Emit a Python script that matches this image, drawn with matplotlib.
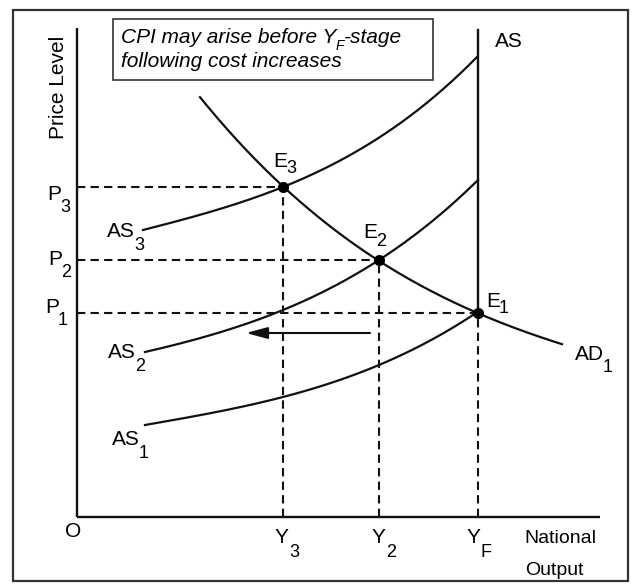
import numpy as np
import matplotlib
matplotlib.use("Agg")
import matplotlib.pyplot as plt
from matplotlib.patches import Rectangle

plt.rcParams['font.family'] = ['Liberation Sans', 'DejaVu Sans']

# ---- data (output on x, price level on y) ----
Y3, Y2, YF = 206, 302, 401
P1, P2, P3 = 204, 257, 330
eq_x = [YF, Y2, Y3]
eq_y = [P1, P2, P3]

ad1_x = [123, 206, 302, 399, 485]
ad1_y = [420, 330, 257, 204, 173]
as3_x = [66, 206, 303, 400]
as3_y = [287, 330, 380, 460]
as2_x = [68, 206, 302, 401]
as2_y = [165, 207, 257, 337]
as1_x = [68, 206, 302, 399]
as1_y = [92, 120, 152, 204]
as_top = 487
x_axis_end = 523
y_axis_top = 489

fig = plt.figure(figsize=(6.34, 5.85), dpi=100)
ax = fig.add_axes([0, 0, 1, 1])
ax.set_xlim(-77, 557)
ax.set_ylim(-68, 517)
ax.axis('off')
renderer = fig.canvas.get_renderer()

# outer frame
fig.patches.append(Rectangle((13/634, 4/585), 615/634, 571/585, transform=fig.transFigure,
                             fill=False, lw=1.6, ec='#333333'))

# axes
ax.plot([0, 0], [0, y_axis_top], color='#111111', lw=1.7, solid_capstyle='butt')
ax.plot([0, x_axis_end], [0, 0], color='#111111', lw=1.7, solid_capstyle='butt')

def smooth(xs, ys, deg=3):
    c = np.polyfit(xs, ys, deg)
    xx = np.linspace(xs[0], xs[-1], 200)
    return xx, np.polyval(c, xx)

for xs, ys in [(ad1_x, ad1_y), (as3_x, as3_y), (as2_x, as2_y), (as1_x, as1_y)]:
    xx, yy = smooth(xs, ys)
    ax.plot(xx, yy, color='#111111', lw=1.6)

# vertical AS
ax.plot([YF, YF], [P1, as_top], color='#111111', lw=1.7)

# dashed guides
dash = dict(color='#111111', lw=1.5, dashes=(4, 2.5))
for x, y in zip(eq_x, eq_y):
    ax.plot([0, x], [y, y], **dash)
    ax.plot([x, x], [0, y], **dash)

ax.plot(eq_x, eq_y, 'o', color='black', ms=7)

# arrow
ax.annotate('', xy=(169, 184), xytext=(293, 184),
            arrowprops=dict(arrowstyle='-|>,head_length=1.3,head_width=0.35',
                            color='#111111', lw=1.5, shrinkA=0, shrinkB=0))

FS, SFS = 15, 13

def sublabel(x, y, main, sub, drop=12, gap=-1, fs=FS, sfs=SFS, **kw):
    t = ax.text(x, y, main, fontsize=fs, va='baseline', ha='left', **kw)
    bb = t.get_window_extent(renderer)
    xr = ax.transData.inverted().transform((bb.x1, 0))[0]
    ax.text(xr + gap, y - drop, sub, fontsize=sfs, va='baseline', ha='left', **kw)
    return t

# equilibrium labels
sublabel(409, 210, 'E', '1', drop=6)
sublabel(286, 279, 'E', '2', drop=8)
sublabel(196, 350, 'E', '3', drop=6)

# curve labels
sublabel(498, 157, 'AD', '1', drop=12)
sublabel(30, 280, 'AS', '3', drop=13)
sublabel(31, 159, 'AS', '2', drop=13)
sublabel(35, 72, 'AS', '1', drop=13)
ax.text(418, 470, 'AS', fontsize=FS, va='baseline')

# price labels
sublabel(-30, 317, 'P', '3', drop=12)
sublabel(-29, 252, 'P', '2', drop=12)
sublabel(-32, 204, 'P', '1', drop=12)

# output labels
sublabel(198, -26, 'Y', '3', drop=14, gap=0)
sublabel(295, -26, 'Y', '2', drop=14, gap=0)
sublabel(390, -26, 'Y', 'F', drop=14, gap=0)
ax.text(-12, -20, 'O', fontsize=FS, ha='left', va='baseline')
ax.text(447, -26, 'National', fontsize=14, va='baseline')
ax.text(448, -58, 'Output', fontsize=14, va='baseline')
ax.text(-18, 430, 'Price Level', fontsize=15, rotation=90, ha='center', va='center')

# note box
ax.add_patch(Rectangle((36, 437), 320, 61, fill=False, lw=1.2, ec='#333333'))
t1 = ax.text(44, 474, 'CPI may arise before Y', fontsize=15, style='italic', va='baseline')
bb = t1.get_window_extent(renderer)
xr = ax.transData.inverted().transform((bb.x1, 0))[0]
tf = ax.text(xr - 1, 467, 'F', fontsize=10, style='italic', va='baseline')
bbf = tf.get_window_extent(renderer)
xf = ax.transData.inverted().transform((bbf.x1, 0))[0]
ax.text(xf, 474, '-stage', fontsize=15, style='italic', va='baseline')
ax.text(44, 450, 'following cost increases', fontsize=15, style='italic', va='baseline')

fig.savefig('out.png', dpi=100)
